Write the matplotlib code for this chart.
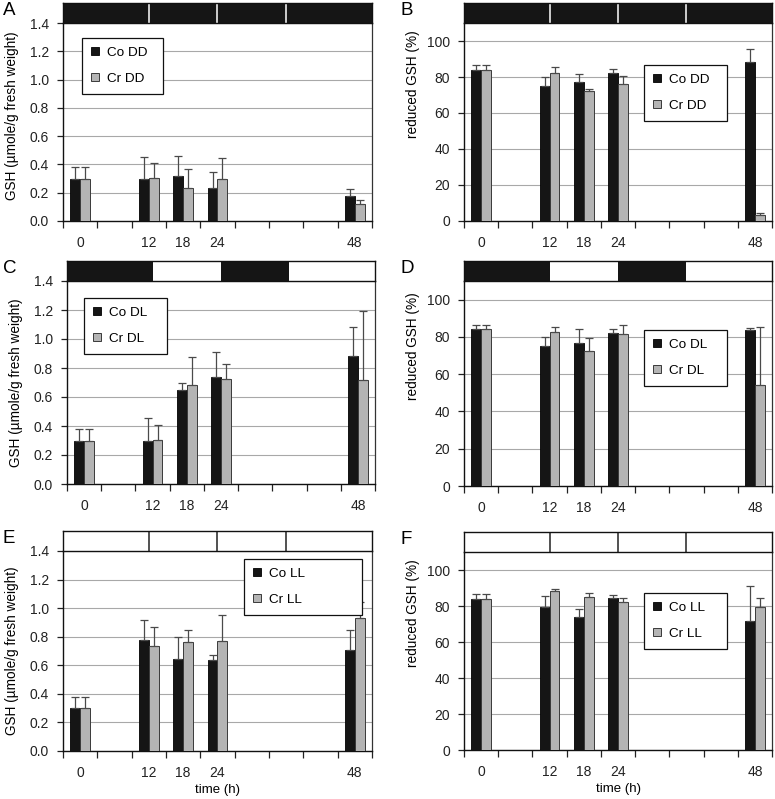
import numpy as np
import matplotlib
matplotlib.use("Agg")
import matplotlib.pyplot as plt

plt.rcParams['font.family'] = ['Liberation Sans', 'DejaVu Sans']

# ---- data ----
slot_hours = [0, 6, 12, 18, 24, 30, 36, 42, 48]
slot_labels = ['0', '', '12', '18', '24', '', '', '', '48']
hours = [0, 12, 18, 24, 48]

# GSH content (umole/g fresh weight) and upper error (cap value)
co_dd = [0.30, 0.295, 0.32, 0.235, 0.18]
co_dd_cap = [0.38, 0.455, 0.46, 0.345, 0.225]
cr_dd = [0.30, 0.305, 0.235, 0.295, 0.12]
cr_dd_cap = [0.38, 0.41, 0.37, 0.445, 0.145]

co_dl = [0.30, 0.295, 0.645, 0.74, 0.88]
co_dl_cap = [0.38, 0.455, 0.70, 0.91, 1.085]
cr_dl = [0.30, 0.305, 0.685, 0.725, 0.72]
cr_dl_cap = [0.38, 0.41, 0.875, 0.83, 1.19]

co_ll = [0.30, 0.78, 0.645, 0.635, 0.71]
co_ll_cap = [0.38, 0.92, 0.80, 0.67, 0.85]
cr_ll = [0.30, 0.735, 0.76, 0.77, 0.93]
cr_ll_cap = [0.38, 0.865, 0.845, 0.955, 1.04]

# reduced GSH (%)
rco_dd = [84, 75, 77, 82.5, 88.5]
rco_dd_cap = [86.5, 80, 81.5, 84.5, 95.5]
rcr_dd = [84, 82.5, 72.5, 76, 3.5]
rcr_dd_cap = [86.5, 85.5, 73.5, 80.5, 4.7]

rco_dl = [84, 75, 77, 82, 83.5]
rco_dl_cap = [86.5, 80, 84, 84, 85]
rcr_dl = [84, 82.5, 72.5, 81.5, 54]
rcr_dl_cap = [86.5, 85.5, 79.5, 86.5, 85.5]

rco_ll = [84, 79.5, 74, 84.5, 71.5]
rco_ll_cap = [86.5, 85.5, 78.5, 86, 91]
rcr_ll = [84, 88.5, 85, 82.5, 79.5]
rcr_ll_cap = [86.5, 89.5, 87.5, 84.5, 84.5]

# light regime bars: boundaries and dark periods (hours)
bound_h = [12, 24, 36]
dark_dd = [(-3, 51)]
dark_dl = [(-3, 12), (24, 36)]
dark_ll = []

W, H = 775, 799
fig = plt.figure(figsize=(W / 100, H / 100), dpi=100)

BLACK = '#151515'
GREY = '#b4b4b4'
ECOL = '#4a4a4a'
GRID = '#a8a8a8'
TICKFS = 10
LABFS = 9.8


def px_axes(l, t, r, b):
    return fig.add_axes([l / W, 1 - b / H, (r - l) / W, (b - t) / H])


def h2x(h):
    return np.asarray(h, dtype=float) / 6.0


def panel(box, letter, co, co_cap, cr, cr_cap, labels, darks, kind, leg_box,
          label_y=0.5, xlabel=False):
    l, t, r, b = box
    ax = px_axes(l, t, r, b)
    x = h2x(hours)
    w = 0.29
    co = np.array(co); cr = np.array(cr)
    ecop = np.array(co_cap) - co
    ecrp = np.array(cr_cap) - cr
    ekw = dict(ecolor=ECOL, elinewidth=0.9, capsize=3, capthick=0.9)
    b1 = ax.bar(x - w / 2, co, w, color=BLACK, edgecolor='#000000', linewidth=0.6,
                yerr=[np.zeros_like(co), ecop], error_kw=ekw, label=labels[0], zorder=3)
    b2 = ax.bar(x + w / 2, cr, w, color=GREY, edgecolor='#3a3a3a', linewidth=0.7,
                yerr=[np.zeros_like(cr), ecrp], error_kw=ekw, label=labels[1], zorder=3)
    ax.set_xlim(-0.5, 8.5)
    if kind == 'gsh':
        ax.set_ylim(0, 1.4)
        yt = np.arange(0, 1.41, 0.2)
        ax.set_yticks(yt)
        ax.set_yticklabels([f'{v:.1f}' for v in yt])
        ax.set_ylabel('GSH (µmole/g fresh weight)', fontsize=LABFS)
    else:
        ax.set_ylim(0, 110)
        yt = np.arange(0, 101, 20)
        ax.set_yticks(yt)
        ax.set_yticklabels([str(int(v)) for v in yt])
        ax.set_ylabel('reduced GSH (%)', fontsize=LABFS)
    ax.yaxis.set_label_coords(-44 / (r - l), label_y)
    ax.set_xticks(h2x(slot_hours))
    ax.set_xticklabels(slot_labels)
    ax.set_xticks(np.arange(-0.5, 9, 1), minor=True)
    ax.tick_params(axis='x', which='major', length=0, pad=11, labelsize=TICKFS, colors='#222222')
    ax.tick_params(axis='x', which='minor', length=5, width=0.9, direction='out', color='#222222')
    ax.tick_params(axis='y', length=4, width=0.9, direction='out', pad=6, labelsize=TICKFS,
                   colors='#222222')
    ax.grid(axis='y', color=GRID, linewidth=0.8, zorder=0)
    ax.set_axisbelow(True)
    for s in ['left', 'bottom']:
        ax.spines[s].set_color('#111111')
        ax.spines[s].set_linewidth(1.0)
    ax.spines['right'].set_color('#333333')
    ax.spines['right'].set_linewidth(0.9)
    ax.spines['top'].set_visible(False)
    if xlabel:
        ax.set_xlabel('time (h)', fontsize=9.5, labelpad=3)

    # light regime bar
    ib = px_axes(l, t - 20, r, t)
    ib.set_xlim(-0.5, 8.5)
    ib.set_ylim(0, 1)
    ib.set_xticks([]); ib.set_yticks([])
    for (a, c) in darks:
        ib.axvspan(h2x(a), h2x(c), color=BLACK, lw=0)
    line_col = 'white' if darks == dark_dd else '#222222'
    if darks != dark_dl:
        for bh in bound_h:
            ib.axvline(h2x(bh), color=line_col, lw=1.1)
    for s in ib.spines.values():
        s.set_color('#111111'); s.set_linewidth(1.0)

    # legend
    lx0, ly0, lx1, ly1 = leg_box
    leg = ax.legend(handles=[b1, b2], loc='upper left',
                    bbox_to_anchor=(lx0 / W, 1 - ly0 / H, (lx1 - lx0) / W, 0),
                    bbox_transform=fig.transFigure, mode='expand', borderaxespad=0,
                    fancybox=False, framealpha=1, edgecolor='#111111', fontsize=9.7,
                    handlelength=0.6, handleheight=0.6, handletextpad=0.6,
                    labelspacing=1.05, borderpad=0.65)
    leg.get_frame().set_linewidth(0.9)
    leg.set_zorder(10)

    fig.text(3 / W if l < 200 else 400 / W, 1 - (t - 21) / H, letter, fontsize=13.5,
             ha='left', va='top')
    return ax


panel((63, 23, 372, 221), 'A', co_dd, co_dd_cap, cr_dd, cr_dd_cap, ['Co DD', 'Cr DD'],
      dark_dd, 'gsh', (82, 38, 163, 94), label_y=0.53)
panel((464, 23, 772, 221), 'B', rco_dd, rco_dd_cap, rcr_dd, rcr_dd_cap, ['Co DD', 'Cr DD'],
      dark_dd, 'red', (644, 65, 727, 121), label_y=0.69)
panel((67, 281, 375, 484), 'C', co_dl, co_dl_cap, cr_dl, cr_dl_cap, ['Co DL', 'Cr DL'],
      dark_dl, 'gsh', (84, 298, 167, 354), label_y=0.5)
panel((464, 281, 772, 486), 'D', rco_dl, rco_dl_cap, rcr_dl, rcr_dl_cap, ['Co DL', 'Cr DL'],
      dark_dl, 'red', (644, 330, 727, 385), label_y=0.68)
panel((63, 551, 372, 751), 'E', co_ll, co_ll_cap, cr_ll, cr_ll_cap, ['Co LL', 'Cr LL'],
      dark_ll, 'gsh', (244, 559, 362, 616), label_y=0.5, xlabel=True)
panel((464, 552, 772, 750), 'F', rco_ll, rco_ll_cap, rcr_ll, rcr_ll_cap, ['Co LL', 'Cr LL'],
      dark_ll, 'red', (644, 593, 727, 649), label_y=0.69, xlabel=True)

fig.savefig('out.png', dpi=100)
